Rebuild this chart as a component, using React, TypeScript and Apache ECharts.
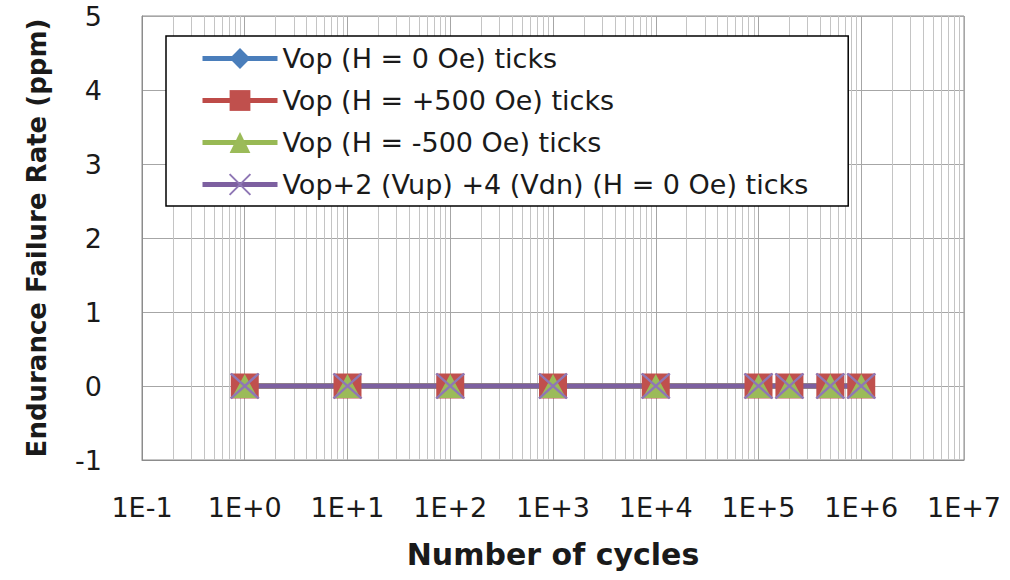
import React, { useEffect, useRef } from "react";
import * as echarts from "echarts";

const cycles = [1, 10, 100, 1000, 10000, 100000, 200000, 500000, 1000000];
const vopH0 = [0, 0, 0, 0, 0, 0, 0, 0, 0];
const vopHplus500 = [0, 0, 0, 0, 0, 0, 0, 0, 0];
const vopHminus500 = [0, 0, 0, 0, 0, 0, 0, 0, 0];
const vopUpDn = [0, 0, 0, 0, 0, 0, 0, 0, 0];
const seriesNames = [
  "Vop (H = 0 Oe) ticks",
  "Vop (H = +500 Oe) ticks",
  "Vop (H = -500 Oe) ticks",
  "Vop+2 (Vup) +4 (Vdn) (H = 0 Oe) ticks",
];
const xDecadeExponents = [-1, 0, 1, 2, 3, 4, 5, 6, 7];
const minorMultipliers = [2, 3, 4, 5, 6, 7, 8, 9];

const FONT = "DejaVu Sans";

export default function App() {
  const ref = useRef<HTMLDivElement>(null);
  useEffect(() => {
    if (!ref.current) return;
    const chart = echarts.init(ref.current, undefined, { renderer: "svg" });
    const pairs = (ys: number[]) => cycles.map((x, i) => [x, ys[i]]);
    const minorValues: number[] = [];
    xDecadeExponents.slice(0, -1).forEach((e) => {
      minorMultipliers.forEach((m) => minorValues.push(m * Math.pow(10, e)));
    });
    const base = {
      type: "line",
      lineStyle: { width: 5 },
      z: 3,
    };
    chart.setOption({
      animation: false,
      textStyle: { fontFamily: FONT },
      grid: {
        left: 142,
        top: 16,
        right: 46,
        bottom: 120,
        show: true,
        borderColor: "#8C8C8C",
        borderWidth: 1,
        backgroundColor: "transparent",
      },
      legend: {
        data: seriesNames,
        orient: "vertical",
        left: 166,
        top: 36,
        padding: [9, 40, 8, 34],
        itemGap: 15,
        itemWidth: 75,
        itemHeight: 26,
        backgroundColor: "#ffffff",
        borderColor: "#000000",
        borderWidth: 1.5,
        lineStyle: { width: 5 },
        textStyle: { fontFamily: FONT, fontSize: 27, color: "#1a1a1a" },
        z: 10,
      },
      xAxis: {
        type: "log",
        logBase: 10,
        min: 0.1,
        max: 10000000,
        splitNumber: 8,
        name: "Number of cycles",
        nameLocation: "middle",
        nameGap: 79,
        nameTextStyle: { fontFamily: FONT, fontSize: 30, fontWeight: "bold", color: "#1a1a1a" },
        axisLine: { onZero: false, lineStyle: { color: "#8C8C8C", width: 1 } },
        axisTick: { show: false },
        axisLabel: {
          margin: 34,
          fontFamily: FONT,
          fontSize: 27,
          color: "#1a1a1a",
          formatter: (v: number) => {
            const e = Math.round(Math.log10(v));
            return "1E" + (e < 0 ? "-" : "+") + Math.abs(e);
          },
        },
        splitLine: { show: true, lineStyle: { color: "#A6A6A6", width: 1 } },
      },
      yAxis: {
        type: "value",
        min: -1,
        max: 5,
        interval: 1,
        name: "Endurance Failure Rate (ppm)",
        nameLocation: "middle",
        nameGap: 92,
        nameTextStyle: { fontFamily: FONT, fontSize: 26, fontWeight: "bold", color: "#1a1a1a" },
        axisLine: { show: true, onZero: false, lineStyle: { color: "#8C8C8C", width: 1 } },
        axisTick: { show: false },
        axisLabel: { margin: 40, fontFamily: FONT, fontSize: 27, color: "#1a1a1a" },
        splitLine: { show: true, lineStyle: { color: "#A6A6A6", width: 1 } },
      },
      series: [
        {
          type: "line",
          name: "minorGrid",
          data: [],
          silent: true,
          z: 0,
          markLine: {
            silent: true,
            z: 0,
            symbol: ["none", "none"],
            label: { show: false },
            lineStyle: { color: "#C4C4C4", width: 1, type: "solid" },
            emphasis: { disabled: true },
            data: minorValues.map((v) => ({ xAxis: v })),
          },
        },
        {
          ...base,
          name: seriesNames[0],
          data: pairs(vopH0),
          symbol: "diamond",
          symbolSize: [16, 20],
          itemStyle: { color: "#4A7EBB" },
          lineStyle: { width: 5, color: "#4A7EBB" },
        },
        {
          ...base,
          name: seriesNames[1],
          data: pairs(vopHplus500),
          symbol: "rect",
          symbolSize: [28, 25],
          itemStyle: { color: "#C0504D" },
          lineStyle: { width: 5, color: "#BE4B48" },
        },
        {
          ...base,
          name: seriesNames[2],
          data: pairs(vopHminus500),
          symbol: "triangle",
          symbolSize: [26, 24],
          itemStyle: { color: "#9BBB59" },
          lineStyle: { width: 5, color: "#98B954" },
        },
        {
          ...base,
          name: seriesNames[3],
          data: pairs(vopUpDn),
          symbol: "path://M0,0L10,10M10,0L0,10",
          symbolSize: [28, 25],
          itemStyle: { color: "#8064A2", borderColor: "#8F77B5", borderWidth: 2.5 },
          lineStyle: { width: 5, color: "#7D60A0" },
        },
      ],
    });
    return () => chart.dispose();
  }, []);
  return (
    <div
      ref={ref}
      style={{ position: "fixed", left: 0, top: 0, width: 1010, height: 580, background: "#fff" }}
    />
  );
}
